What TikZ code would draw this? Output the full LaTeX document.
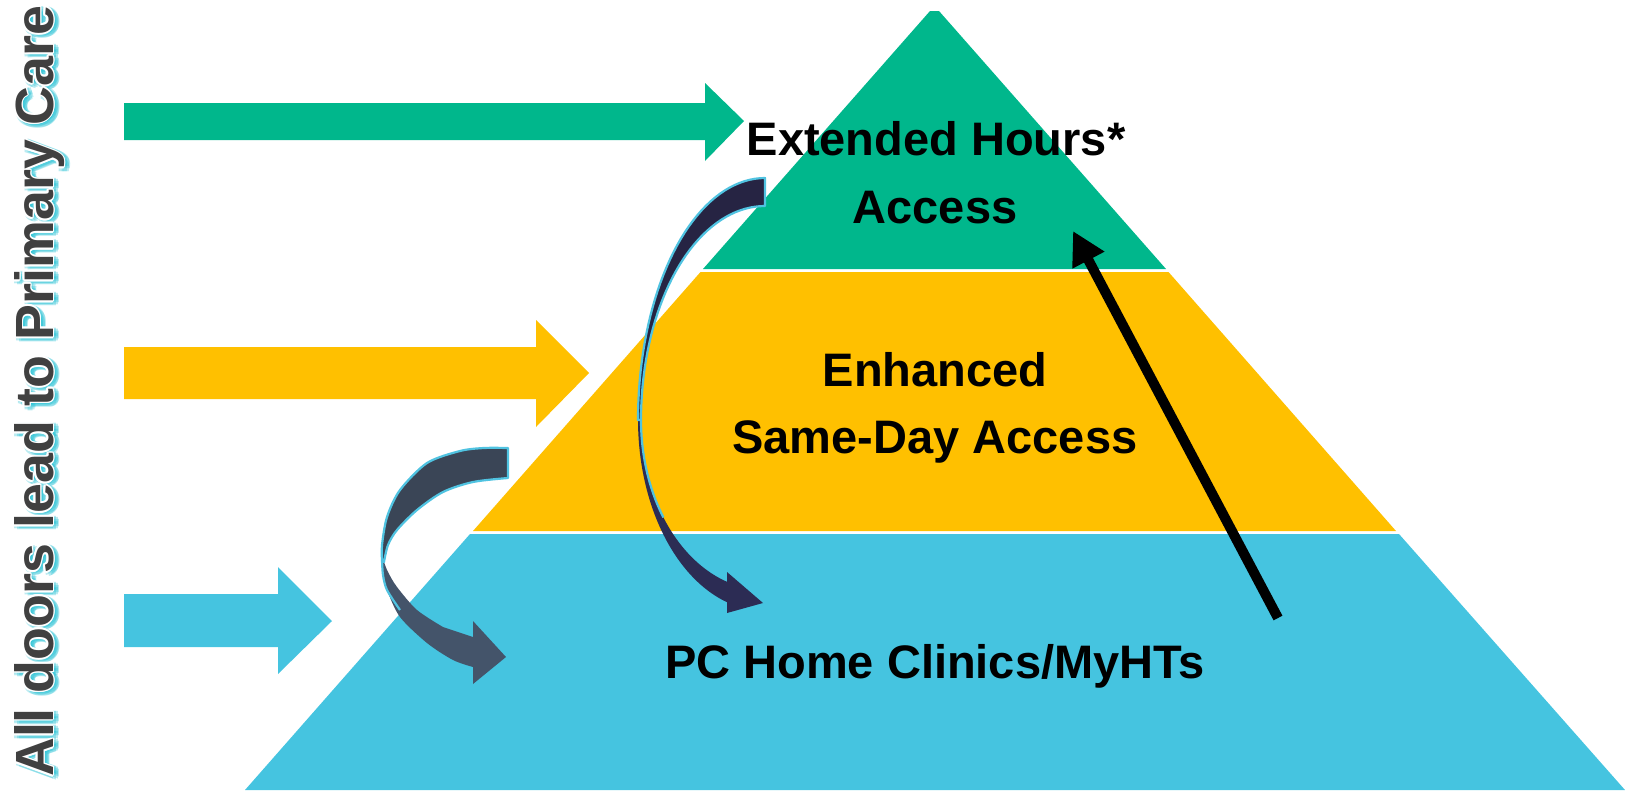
\documentclass[tikz,border=0pt]{standalone}
\usepackage{fontspec}
\setsansfont{Liberation Sans}
\usetikzlibrary{arrows.meta}
\definecolor{pgreen}{RGB}{0,183,140}
\definecolor{pyellow}{RGB}{255,192,0}
\definecolor{pblue}{RGB}{69,196,224}
\definecolor{navyA}{RGB}{38,36,67}
\definecolor{navyB}{RGB}{44,44,84}
\definecolor{slateA}{RGB}{58,69,86}
\definecolor{slateB}{RGB}{68,84,106}
\definecolor{rim}{RGB}{80,195,225}
\definecolor{vgray}{RGB}{64,64,64}
\definecolor{glow}{RGB}{30,190,210}
\newcommand{\vtext}{All doors lead to Primary Care}
\begin{document}
\begin{tikzpicture}[x=1pt,y=-1pt,
  lbl/.style={font=\sffamily\bfseries\fontsize{47}{56}\selectfont, inner sep=0pt, anchor=base, text=black},
  vt/.style={font=\sffamily\bfseries\fontsize{53.8}{60}\selectfont, inner sep=0pt, anchor=base west, rotate=90},
  rimline/.style={draw=rim, line width=2.2pt, line join=round}]
\useasboundingbox (0,0) rectangle (1625,790);
% pyramid tiers
\fill[pgreen] (930,11) -- (939,11) -- (1166,269) -- (703,269) -- cycle;
\fill[pyellow] (700.5,272) -- (1168.5,272) -- (1396,531) -- (473,531) -- cycle;
\fill[pblue] (470,534) -- (1399,534) -- (1625,790) -- (245,790) -- cycle;
% horizontal arrows
\fill[pgreen] (124,103) -- (705,103) -- (705,83) -- (744,121) -- (705,161) -- (705,140) -- (124,140) -- cycle;
\fill[pyellow] (124,347) -- (536,347) -- (536,320) -- (589,373) -- (536,427) -- (536,399) -- (124,399) -- cycle;
\fill[pblue] (124,594) -- (278,594) -- (278,567) -- (332,621) -- (278,674) -- (278,647) -- (124,647) -- cycle;
% upper curved arrow
\fill[navyB] plot[domain=180:252.6,samples=40] ({765+127*cos(\x)},{420-191*sin(\x)})
  -- (727,613) -- (763,603) -- (727,572)
  -- plot[domain=252.2:180,samples=40] ({765+124*cos(\x)},{420-170*sin(\x)}) -- cycle;
\draw[rimline] plot[domain=180:215,samples=20] ({765+124*cos(\x)},{420-170*sin(\x)});
\filldraw[navyA, rimline] plot[domain=90:180,samples=40] ({765+127*cos(\x)},{420-242*sin(\x)})
  -- plot[domain=180:90,samples=40] ({765+124*cos(\x)},{420-214*sin(\x)}) -- cycle;
% lower-left curved arrow
\fill[slateB] plot[smooth] coordinates {(382,560) (383,575) (387,590) (400,617) (427,643) (453,660) (473,667)}
  -- (473,684) -- (506,657) -- (473,621) -- (473,637)
  -- plot[smooth] coordinates {(443,627) (417,610) (397,587) (388,572) (384,562)} -- cycle;
\draw[rimline] plot[smooth] coordinates {(382,560) (383,575) (387,590) (400,610)};
\filldraw[slateA, rimline] plot[smooth] coordinates {(508,448) (484,448) (460,451) (427,463) (400,490) (387,517) (382,545) (382,560)}
  -- plot[smooth] coordinates {(384,562) (388,545) (397,530) (417,510) (443,492) (473,482) (508,478)} -- cycle;
% labels
\node[lbl] (ext1) at (936,155) {Extended Hours*};
\node[lbl] (ext2) at (935,223) {Access};
\node[lbl] (enh1) at (935,386) {Enhanced};
\node[lbl] (enh2) at (935,453) {Same-Day Access};
\node[lbl] (pc) at (935,678) {PC Home Clinics/MyHTs};
% black arrow
\coordinate (bt) at (1278,618);
\coordinate (bh) at (1073,231);
\draw[line width=10pt, -{Triangle[length=33pt,width=34pt]}] (bt) -- (bh);
% vertical title with glow and outline
\foreach \a in {0,45,...,315}
  \node[vt, text=glow, opacity=0.3] at ([shift={(\a:3)}]56,779) {\vtext};
\foreach \a in {0,30,...,330}
  \node[vt, text=white] at ([shift={(\a:1.8)}]53,777) {\vtext};
\node[vt, text=vgray] (title) at (53,777) {\vtext};
\end{tikzpicture}
\end{document}
